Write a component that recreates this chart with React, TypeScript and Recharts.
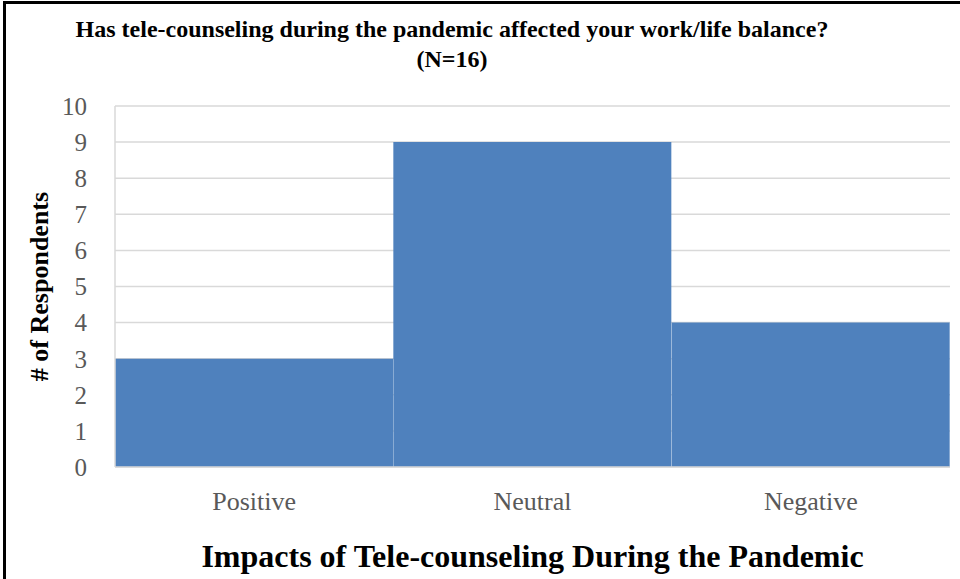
import React from 'react';
import { BarChart, Bar, XAxis, YAxis, CartesianGrid, Label } from 'recharts';

const categories = ['Positive', 'Neutral', 'Negative'];
const respondents = [3, 9, 4];
const yTicks = [0, 1, 2, 3, 4, 5, 6, 7, 8, 9, 10];

const data = categories.map((impact, i) => ({ impact, count: respondents[i] }));

const serif = '"Liberation Serif", "Times New Roman", serif';

const App: React.FC = () => {
  return (
    <div style={{ position: 'absolute', left: 0, top: 0, width: 960, height: 579, background: '#fff', fontFamily: serif }}>
      {/* chart frame: only top and left edges are visible in the original crop */}
      <div style={{ position: 'absolute', left: 3, top: 1, width: 957, height: 578, borderTop: '3px solid #000', borderLeft: '3px solid #000', boxSizing: 'border-box' }} />
      <div
        style={{
          position: 'absolute',
          left: 0,
          top: 14,
          width: 904,
          textAlign: 'center',
          fontWeight: 'bold',
          fontSize: 24,
          lineHeight: '30px',
          color: '#000',
        }}
      >
        Has tele-counseling during the pandemic affected your work/life balance?
        <br />
        (N=16)
      </div>
      <BarChart
        width={960}
        height={579}
        data={data}
        margin={{ top: 106, right: 10, left: 0, bottom: 0 }}
        barCategoryGap={0}
        style={{ position: 'absolute', left: 0, top: 0 }}
      >
        <CartesianGrid vertical={false} stroke="#d9d9d9" strokeWidth={1.5} />
        <XAxis
          dataKey="impact"
          height={112}
          axisLine={{ stroke: '#d9d9d9', strokeWidth: 1.5 }}
          tickLine={false}
          tickSize={0}
          tickMargin={25}
          tick={{ fill: '#595959', fontSize: 26, fontFamily: serif }}
        >
          <Label
            value="Impacts of Tele-counseling During the Pandemic"
            position="insideBottom"
            offset={12}
            style={{ fill: '#000', fontSize: 32, fontWeight: 'bold', fontFamily: serif }}
          />
        </XAxis>
        <YAxis
          width={115}
          domain={[0, 10]}
          ticks={yTicks}
          interval={0}
          axisLine={{ stroke: '#d9d9d9', strokeWidth: 1.5 }}
          tickLine={false}
          tickSize={0}
          tickMargin={28}
          tick={{ fill: '#595959', fontSize: 25, fontFamily: serif }}
        >
          <Label
            value="# of Respondents"
            angle={-90}
            position="insideLeft"
            offset={39}
            style={{ fill: '#000', fontSize: 26, fontWeight: 'bold', fontFamily: serif, textAnchor: 'middle' }}
          />
        </YAxis>
        <Bar dataKey="count" fill="#4F81BD" isAnimationActive={false} />
      </BarChart>
    </div>
  );
};

export default App;
